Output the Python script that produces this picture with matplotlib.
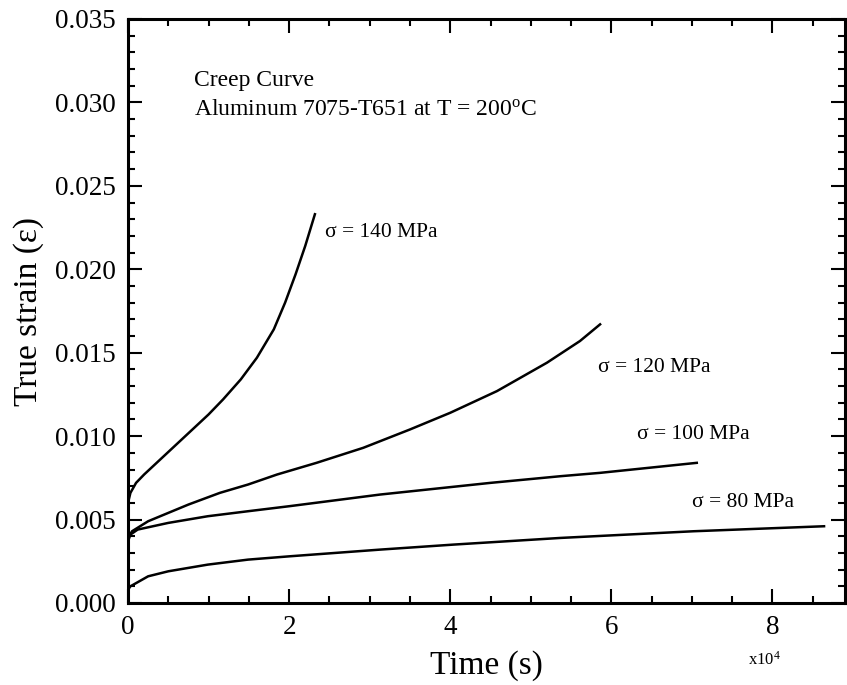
import matplotlib
matplotlib.use("Agg")
import matplotlib.pyplot as plt
from matplotlib.ticker import MultipleLocator, FuncFormatter

plt.rcParams['font.family'] = ['Liberation Serif', 'DejaVu Serif']
plt.rcParams['mathtext.fontset'] = 'custom'
plt.rcParams['mathtext.rm'] = 'Liberation Serif'
plt.rcParams['mathtext.it'] = 'Liberation Serif:italic'

# time in seconds, true strain
t_140 = [0, 100, 300, 1000, 2000, 4000, 6000, 8000, 10000, 11800, 14000, 16000, 18100, 19500, 20800, 22000, 23200]
e_140 = [0.0058, 0.0062, 0.0066, 0.0072, 0.0077, 0.0086, 0.0095, 0.0104, 0.0113, 0.0122, 0.0134, 0.0147, 0.0164, 0.0180, 0.0197, 0.0214, 0.0233]

t_120 = [0, 500, 2500, 5000, 7500, 11400, 14900, 18500, 23400, 29200, 35000, 40000, 45800, 52000, 56100, 58600]
e_120 = [0.0039, 0.0043, 0.0049, 0.0054, 0.0059, 0.0066, 0.0071, 0.0077, 0.0084, 0.0093, 0.0104, 0.0114, 0.0127, 0.0144, 0.0157, 0.0167]

t_100 = [0, 300, 1200, 5000, 9900, 14900, 20000, 31300, 45000, 53700, 58600, 70600]
e_100 = [0.0037, 0.0041, 0.0044, 0.0048, 0.0052, 0.0055, 0.0058, 0.0065, 0.0072, 0.0076, 0.0078, 0.0084]

t_80 = [0, 300, 2500, 5000, 9900, 14900, 20100, 31300, 40400, 53700, 70200, 86400]
e_80 = [0.0008, 0.0010, 0.0016, 0.0019, 0.0023, 0.0026, 0.0028, 0.0032, 0.0035, 0.0039, 0.0043, 0.0046]

labels = ["σ = 140 MPa", "σ = 120 MPa", "σ = 100 MPa", "σ = 80 MPa"]
label_pos = [(24500, 0.0222), (58300, 0.0141), (63200, 0.0101), (70000, 0.0060)]

fig = plt.figure(figsize=(8.47, 6.85), dpi=100)
ax = fig.add_axes([128/847, (685-603)/685, (845-128)/847, (603-19)/685])

for t, e in [(t_140, e_140), (t_120, e_120), (t_100, e_100), (t_80, e_80)]:
    ax.plot(t, e, color='black', lw=1.8, solid_joinstyle='round')

for lab, (x, y) in zip(labels, label_pos):
    ax.text(x, y, lab, fontsize=15.5, ha='left', va='center')

ax.text(0.092, 0.8955, "Creep Curve", transform=ax.transAxes, fontsize=17, ha='left', va='center')
ax.text(0.092, 0.845, r"Aluminum 7075-T651 at T = 200$^{\mathrm{o}}$C", transform=ax.transAxes,
        fontsize=17, ha='left', va='center')

ax.set_xlim(0, 89000)
ax.set_ylim(0, 0.035)
ax.xaxis.set_major_locator(MultipleLocator(20000))
ax.xaxis.set_minor_locator(MultipleLocator(5000))
ax.yaxis.set_major_locator(MultipleLocator(0.005))
ax.yaxis.set_minor_locator(MultipleLocator(0.001))
ax.xaxis.set_major_formatter(FuncFormatter(lambda v, p: f"{v/1e4:.0f}"))
ax.yaxis.set_major_formatter(FuncFormatter(lambda v, p: f"{v:.3f}"))

ax.tick_params(which='both', direction='in', top=True, right=True, labelsize=19.5, width=1.5)
ax.tick_params(which='major', length=10)
ax.tick_params(which='minor', length=5)
ax.tick_params(axis='x', pad=9)
ax.tick_params(axis='y', pad=9)
for s in ax.spines.values():
    s.set_linewidth(2.2)

ax.set_xlabel("Time (s)", fontsize=24, labelpad=7)
ax.set_ylabel("True strain (ε)", fontsize=24, labelpad=8)
fig.text(764/847, 1 - 660/685, r"x10$^{4}$", fontsize=12, ha='center', va='center')

fig.savefig("out.png", dpi=100)
